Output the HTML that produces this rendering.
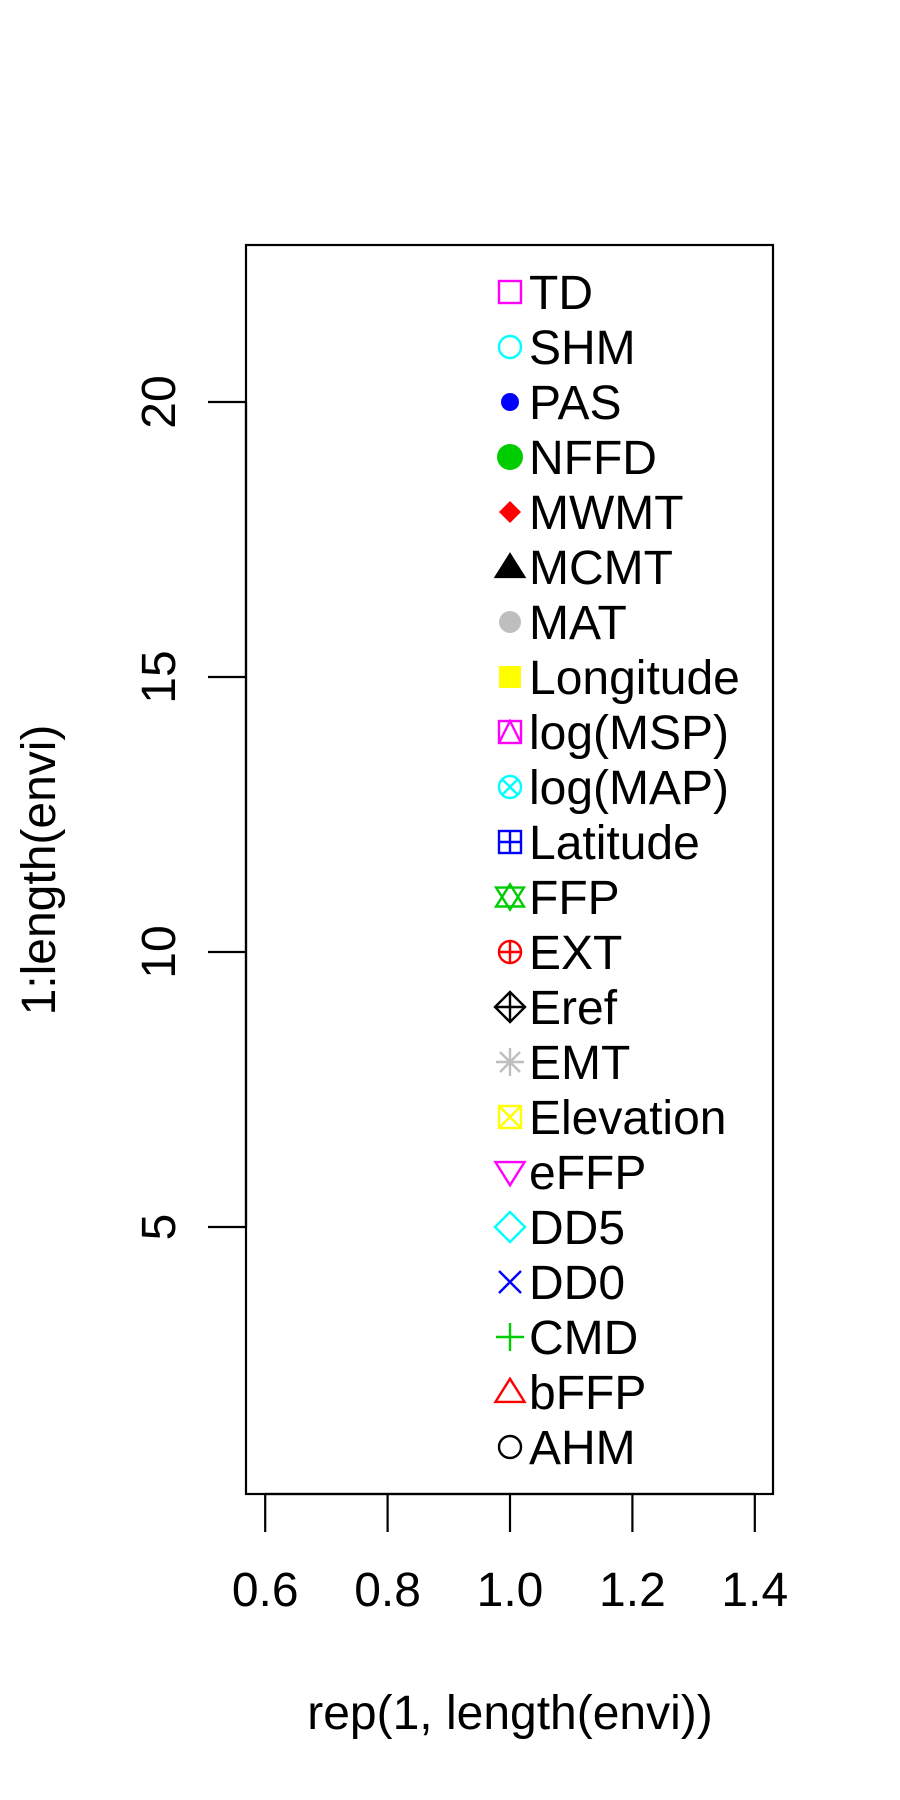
<!DOCTYPE html>
<html><head><meta charset="utf-8"><style>
html,body{margin:0;padding:0;background:#fff;}
svg{display:block;font-family:"Liberation Sans",Arial,sans-serif;}
</style></head><body>
<svg id="chart" width="900" height="1800" viewBox="0 0 900 1800"></svg>
<script>
const labels=["AHM","bFFP","CMD","DD0","DD5","eFFP","Elevation","EMT","Eref","EXT","FFP","Latitude","log(MAP)","log(MSP)","Longitude","MAT","MCMT","MWMT","NFFD","PAS","SHM","TD"];
const xValues=[1,1,1,1,1,1,1,1,1,1,1,1,1,1,1,1,1,1,1,1,1,1];
const yValues=[1,2,3,4,5,6,7,8,9,10,11,12,13,14,15,16,17,18,19,20,21,22];
const xTicks=[0.6,0.8,1.0,1.2,1.4];
const xTickLabels=["0.6","0.8","1.0","1.2","1.4"];
const yTicks=[5,10,15,20];
const pal=["#000000","#FF0000","#00CD00","#0000FF","#00FFFF","#FF00FF","#FFFF00","#BEBEBE"];
const NS="http://www.w3.org/2000/svg";
const svg=document.getElementById('chart');
const L=246,R=773,T=245,B=1494;
const FS=48;
function sx(v){return 510+(v-1)*612;}
function sy(v){return 1447-(v-1)*55.0;}
function el(tag,attrs,parent){const e=document.createElementNS(NS,tag);for(const k in attrs)e.setAttribute(k,attrs[k]);(parent||svg).appendChild(e);return e;}
const box=el('rect',{x:L,y:T,width:R-L,height:B-T,fill:'none',stroke:'#000','stroke-width':2.2});


const xa=el('g',{});


el('line',{x1:sx(xTicks[0]),x2:sx(xTicks[xTicks.length-1]),y1:B,y2:B,stroke:'#000','stroke-width':2.2},xa);
xTicks.forEach((t,i)=>{
  el('line',{x1:sx(t),x2:sx(t),y1:B,y2:B+38,stroke:'#000','stroke-width':2.2},xa);
  const tx=el('text',{x:sx(t),y:1606,'font-size':FS,'text-anchor':'middle'},xa);
  tx.textContent=xTickLabels[i];
  
  
});
const ya=el('g',{});


el('line',{x1:L,x2:L,y1:sy(yTicks[0]),y2:sy(yTicks[yTicks.length-1]),stroke:'#000','stroke-width':2.2},ya);
yTicks.forEach(t=>{
  el('line',{x1:L,x2:L-38,y1:sy(t),y2:sy(t),stroke:'#000','stroke-width':2.2},ya);
  const tx=el('text',{x:0,y:0,'font-size':FS,'text-anchor':'middle',transform:`translate(175,${sy(t)}) rotate(-90)`},ya);
  tx.textContent=String(t);
  
  
});
const xt=el('text',{x:510,y:1729,'font-size':FS,'text-anchor':'middle'});
xt.textContent='rep(1, length(envi))';


const yt=el('text',{x:0,y:0,'font-size':FS,'text-anchor':'middle',transform:'translate(55,870) rotate(-90)'});
yt.textContent='1:length(envi)';


function sym(g,pch,cx,cy,c){
  const s={stroke:c,'stroke-width':2.4,fill:'none'};
  const r=11;
  const tri=(up,sc)=>{const h=r*sc;return up?`${cx},${cy-h} ${cx-h*1.1},${cy+h*0.75} ${cx+h*1.1},${cy+h*0.75}`:`${cx},${cy+h} ${cx-h*1.1},${cy-h*0.75} ${cx+h*1.1},${cy-h*0.75}`;};
  const sq=()=>el('rect',Object.assign({x:cx-r,y:cy-r,width:2*r,height:2*r},s),g);
  const dia=(k)=>el('polygon',Object.assign({points:`${cx},${cy-k} ${cx+k},${cy} ${cx},${cy+k} ${cx-k},${cy}`},s),g);
  const ln=(a,b,c2,d)=>el('line',Object.assign({x1:a,y1:b,x2:c2,y2:d},s),g);
  switch(pch){
    case 1: el('circle',Object.assign({cx,cy,r:r},s),g);break;
    case 2: el('polygon',Object.assign({points:tri(true,1.2)},s),g);break;
    case 3: ln(cx-14,cy,cx+14,cy);ln(cx,cy-14,cx,cy+14);break;
    case 4: ln(cx-11,cy-11,cx+11,cy+11);ln(cx-11,cy+11,cx+11,cy-11);break;
    case 5: dia(15);break;
    case 6: el('polygon',Object.assign({points:tri(false,1.2)},s),g);break;
    case 7: sq();ln(cx-r,cy-r,cx+r,cy+r);ln(cx-r,cy+r,cx+r,cy-r);break;
    case 8: ln(cx-14,cy,cx+14,cy);ln(cx,cy-14,cx,cy+14);ln(cx-10,cy-10,cx+10,cy+10);ln(cx-10,cy+10,cx+10,cy-10);break;
    case 9: dia(15);ln(cx-15,cy,cx+15,cy);ln(cx,cy-15,cx,cy+15);break;
    case 10: el('circle',Object.assign({cx,cy,r:r},s),g);ln(cx-r,cy,cx+r,cy);ln(cx,cy-r,cx,cy+r);break;
    case 11: el('polygon',Object.assign({points:tri(true,1.15)},s),g);el('polygon',Object.assign({points:tri(false,1.15)},s),g);break;
    case 12: sq();ln(cx-r,cy,cx+r,cy);ln(cx,cy-r,cx,cy+r);break;
    case 13: el('circle',Object.assign({cx,cy,r:r},s),g);ln(cx-8,cy-8,cx+8,cy+8);ln(cx-8,cy+8,cx+8,cy-8);break;
    case 14: sq();el('polyline',Object.assign({points:`${cx-r},${cy+r} ${cx},${cy-r} ${cx+r},${cy+r}`},s),g);break;
    case 15: el('rect',{x:cx-11,y:cy-11,width:22,height:22,fill:c},g);break;
    case 16: el('circle',{cx,cy,r:11,fill:c},g);break;
    case 17: el('polygon',{points:tri(true,1.35),fill:c},g);break;
    case 18: el('polygon',{points:`${cx},${cy-11} ${cx+11},${cy} ${cx},${cy+11} ${cx-11},${cy}`,fill:c},g);break;
    case 19: el('circle',{cx,cy,r:13,fill:c},g);break;
    case 20: el('circle',{cx,cy,r:9,fill:c},g);break;
    case 21: el('circle',Object.assign({cx,cy,r:r},s),g);break;
    case 22: sq();break;
  }
}
labels.forEach((lab,i)=>{
  const g=el('g',{});
  
  
  const cx=sx(xValues[i]), cy=sy(yValues[i]);
  sym(g,i+1,cx,cy,pal[i%8]);
  const t=el('text',{x:cx+19,y:cy+17,'font-size':FS},g);
  t.textContent=lab;
  
  
});
</script>
</body></html>
